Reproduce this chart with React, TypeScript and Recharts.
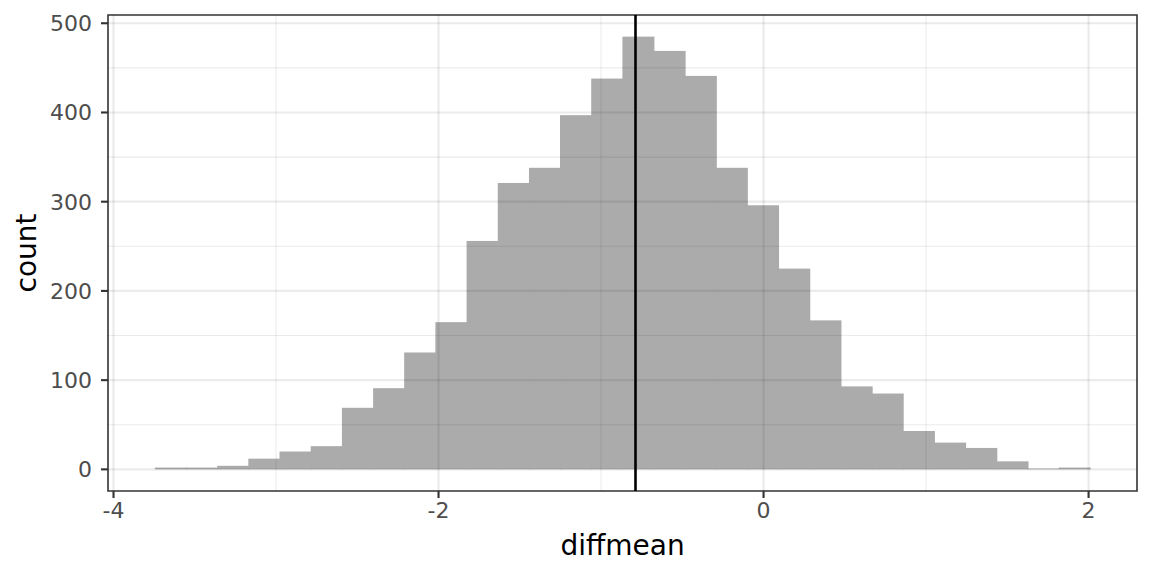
import {
  Bar,
  ComposedChart,
  ReferenceArea,
  ReferenceLine,
  XAxis,
  YAxis,
} from "recharts";

// histogram bin centres (diffmean) and counts
const binCenters = [
  -3.65, -3.458, -3.266, -3.075, -2.883, -2.691, -2.499, -2.307, -2.116, -1.924,
  -1.732, -1.54, -1.348, -1.157, -0.965, -0.773, -0.581, -0.389, -0.198, -0.006,
  0.186, 0.378, 0.57, 0.761, 0.953, 1.145, 1.337, 1.529, 1.72, 1.912,
];
const counts = [
  2, 2, 4, 12, 20, 26, 69, 91, 131, 165, 256, 321, 338, 397, 438, 485, 469, 441,
  338, 296, 225, 167, 93, 85, 43, 30, 24, 9, 1, 2,
];
const meanLine = -0.788;

const xTicks = [-4, -2, 0, 2];
const xMinor = [-3, -1, 1];
const yTicks = [0, 100, 200, 300, 400, 500];
const yMinor = [50, 150, 250, 350, 450];
const xDomain: [number, number] = [-4.034, 2.298];
const yDomain: [number, number] = [-24.25, 509.25];

const FONT = "DejaVu Sans, sans-serif";
const DARK = "#333333";
const TICK_TEXT = "#4D4D4D";
const BAR_FILL = "#ABABAB";
// grid drawn over the bars as a faint dark line: looks #EBEBEB on white,
// and slightly darker over the grey bars (like the alpha fill in the original)
const GRID_OPACITY = 0.079;

const data = binCenters.map((x, i) => ({ x, count: counts[i] }));

// recharts truncates the bar width to whole pixels, so stretch each rect
// by a pixel to close the seams between neighbouring bins
function HistBar(props: any) {
  const { x, y, width, height } = props;
  if (!height) return null;
  return <rect x={x} y={y} width={width + 1} height={height} fill={BAR_FILL} />;
}

export default function App() {
  return (
    <div style={{ position: "absolute", left: 0, top: 0, background: "#fff" }}>
      <ComposedChart
        width={1152}
        height={576}
        data={data}
        barCategoryGap={0}
        barGap={0}
        margin={{ top: 15, right: 15, left: 0, bottom: 0 }}
      >
        <XAxis
          dataKey="x"
          type="number"
          domain={xDomain}
          ticks={xTicks}
          allowDataOverflow
          height={85}
          tickSize={7}
          tickMargin={4}
          axisLine={false}
          tickLine={{ stroke: DARK, strokeWidth: 2.1 }}
          tick={{ fontSize: 22, fill: TICK_TEXT, fontFamily: FONT }}
          label={{
            content: ({ viewBox }: any) => (
              <text
                x={viewBox.x + viewBox.width / 2}
                y={viewBox.y + 64}
                textAnchor="middle"
                fontSize={28}
                fontFamily={FONT}
                fill="#000"
              >
                diffmean
              </text>
            ),
          }}
        />
        <YAxis
          type="number"
          domain={yDomain}
          ticks={yTicks}
          allowDataOverflow
          width={108}
          tickSize={7}
          tickMargin={9}
          axisLine={false}
          tickLine={{ stroke: DARK, strokeWidth: 2.1 }}
          tick={{ fontSize: 22, fill: TICK_TEXT, fontFamily: FONT }}
          label={{
            content: ({ viewBox }: any) => {
              const cx = 36;
              const cy = viewBox.y + viewBox.height / 2;
              return (
                <text
                  x={cx}
                  y={cy}
                  transform={`rotate(-90 ${cx} ${cy})`}
                  textAnchor="middle"
                  fontSize={28}
                  fontFamily={FONT}
                  fill="#000"
                >
                  count
                </text>
              );
            },
          }}
        />
        <Bar
          dataKey="count"
          fill={BAR_FILL}
          shape={HistBar}
          isAnimationActive={false}
        />
        {xMinor.map((v) => (
          <ReferenceLine
            key={`xm${v}`}
            x={v}
            stroke="#000"
            strokeOpacity={GRID_OPACITY}
            strokeWidth={1.1}
          />
        ))}
        {yMinor.map((v) => (
          <ReferenceLine
            key={`ym${v}`}
            y={v}
            stroke="#000"
            strokeOpacity={GRID_OPACITY}
            strokeWidth={1.1}
          />
        ))}
        {xTicks.map((v) => (
          <ReferenceLine
            key={`x${v}`}
            x={v}
            stroke="#000"
            strokeOpacity={GRID_OPACITY}
            strokeWidth={2.2}
          />
        ))}
        {yTicks.map((v) => (
          <ReferenceLine
            key={`y${v}`}
            y={v}
            stroke="#000"
            strokeOpacity={GRID_OPACITY}
            strokeWidth={2.2}
          />
        ))}
        <ReferenceLine x={meanLine} stroke="#000" strokeWidth={2.6} />
        <ReferenceArea
          x1={xDomain[0]}
          x2={xDomain[1]}
          y1={yDomain[0]}
          y2={yDomain[1]}
          fill="none"
          fillOpacity={0}
          stroke={DARK}
          strokeWidth={1.6}
          strokeOpacity={1}
        />
      </ComposedChart>
    </div>
  );
}
